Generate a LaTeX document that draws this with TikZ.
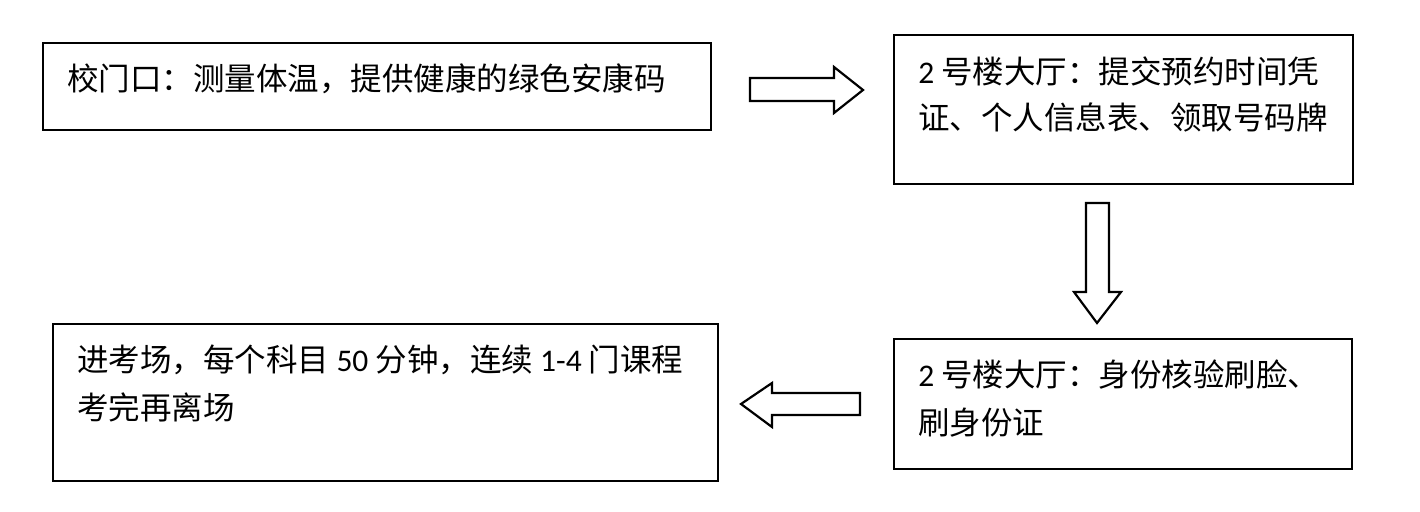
\documentclass[tikz,border=0pt]{standalone}
\usepackage{fontspec}
\setmainfont{Carlito}
\newfontfamily\cjk{Noto Sans CJK SC}
\begin{document}
\begin{tikzpicture}[x=0.5pt,y=-0.5pt,
  stepbox/.style={draw=black,line width=1.1pt,fill=white},
  blockarrow/.style={draw=black,line width=1.1pt,fill=white,line join=miter},
  txt/.style={anchor=base west,inner sep=0pt,font=\fontsize{15.75pt}{18pt}\selectfont}]
\useasboundingbox (0,0) rectangle (1420,512);
% boxes
\draw[stepbox] (43,43) rectangle (711,130) coordinate (b1);
\draw[stepbox] (894,35) rectangle (1353,184) coordinate (b2);
\draw[stepbox] (894,339) rectangle (1352,469) coordinate (b3);
\draw[stepbox] (53,324) rectangle (718,481) coordinate (b4);
% texts
\node[txt] (t1) at (67,91) {\cjk 校门口：测量体温，提供健康的绿色安康码};
\node[txt] (t2a) at (918,84) {2 {\cjk 号楼大厅：提交预约时间凭}};
\node[txt] (t2b) at (918,130) {\cjk 证、个人信息表、领取号码牌};
\node[txt] (t3a) at (918,387) {2 {\cjk 号楼大厅：身份核验刷脸、}};
\node[txt] (t3b) at (918,435) {\cjk 刷身份证};
\node[txt] (t4a) at (77,372) {{\cjk 进考场，每个科目} 50 {\cjk 分钟，连续} 1-4 {\cjk 门课程}};
\node[txt] (t4b) at (77,420) {\cjk 考完再离场};
% block arrows
\draw[blockarrow] (750,78) -- (834,78) -- (834,67) -- (863,90) -- (834,113) -- (834,101) -- (750,101) -- cycle;
\draw[blockarrow] (1086,203) -- (1109,203) -- (1109,292) -- (1121,292) -- (1097,323) -- (1074,292) -- (1086,292) -- cycle;
\draw[blockarrow] (860,393) -- (772,393) -- (772,383) -- (741,404) -- (772,427) -- (772,415) -- (860,415) -- cycle;
\end{tikzpicture}
\end{document}
